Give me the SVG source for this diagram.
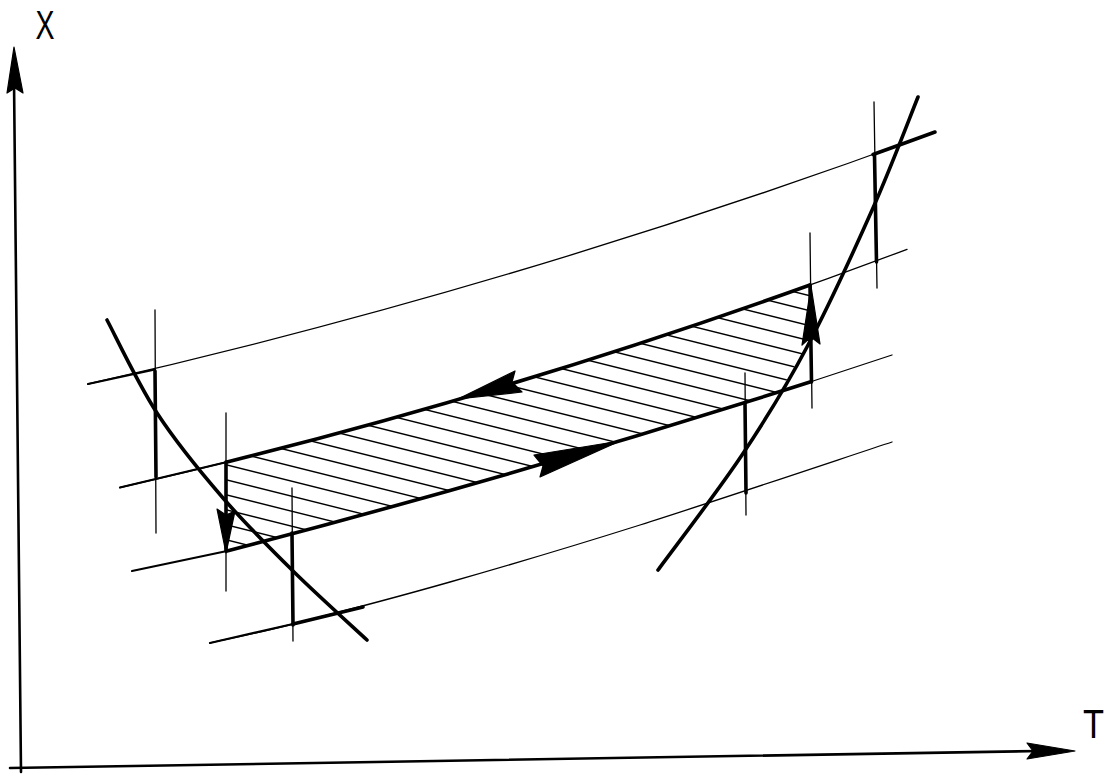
<svg xmlns="http://www.w3.org/2000/svg" width="1107" height="776" viewBox="0 0 1107 776">
  <style>
    .thin{fill:none;stroke:#000;stroke-width:1.3;stroke-linecap:round}
    .med{fill:none;stroke:#000;stroke-width:2.2;stroke-linecap:round}
    .thick{fill:none;stroke:#000;stroke-width:3.6;stroke-linecap:round;stroke-linejoin:round}
    .axis{fill:none;stroke:#000;stroke-width:2.6;stroke-linecap:round}
    .head{fill:#000;stroke:#000;stroke-width:1.2;stroke-linejoin:round}
    .hatch{fill:none;stroke:#000;stroke-width:1.4}
    .lbl{font-family:"Liberation Sans",Arial,sans-serif;font-weight:normal;font-size:40px;fill:#000}
  </style>
  <defs>
    <clipPath id="hatchClip">
      <path d="M227,462 Q518.5,389.65 810,285 L811,338 L780,391.6 Q503.5,479 227,551 Z"/>
    </clipPath>
  </defs>
  <rect width="1107" height="776" fill="#fff"/>

  <g id="axes">
    <path class="axis" d="M14,80 L21,772"/>
    <path class="axis" d="M10,768 L1040,751"/>
    <polygon class="head" points="14,47 23,93 15,88 7,93"/>
    <polygon class="head" points="1075,751 1027,759 1033,751 1027,743"/>
  </g>

  <g id="labels">
    <text class="lbl" x="45" y="39" text-anchor="middle" textLength="19" lengthAdjust="spacingAndGlyphs">X</text>
    <text class="lbl" x="1093.5" y="738" text-anchor="middle" textLength="21" lengthAdjust="spacingAndGlyphs">T</text>
  </g>

  <g id="hatch" clip-path="url(#hatchClip)">
    <path class="hatch" d="M200,143.3 L830,300.8 M200,158.3 L830,315.8 M200,173.3 L830,330.8 M200,188.3 L830,345.8 M200,203.3 L830,360.8 M200,218.3 L830,375.8 M200,233.3 L830,390.8 M200,248.3 L830,405.8 M200,263.3 L830,420.8 M200,278.3 L830,435.8 M200,293.3 L830,450.8 M200,308.3 L830,465.8 M200,323.3 L830,480.8 M200,338.3 L830,495.8 M200,353.3 L830,510.8 M200,368.3 L830,525.8 M200,383.3 L830,540.8 M200,398.3 L830,555.8 M200,413.3 L830,570.8 M200,428.3 L830,585.8 M200,443.3 L830,600.8 M200,458.3 L830,615.8 M200,473.3 L830,630.8 M200,488.3 L830,645.8 M200,503.3 L830,660.8 M200,518.3 L830,675.8 M200,533.3 L830,690.8"/>
  </g>

  <g id="isolines">
    <path class="thin" d="M88,384 Q511.5,288 935,132"/>
    <path class="med" d="M88,384 L155,369.5"/>
    <path class="thick" d="M873,154.5 Q904,143.4 935,132"/>
    <path class="thin" d="M120,487.5 Q513.5,397.8 907,249.3"/>
    <path class="med" d="M120,487.5 L227,462"/>
    <path class="thick" d="M227,462 Q518.5,389.65 810,285"/>
    <path class="med" d="M132,571 L227,551"/>
    <path class="thick" d="M227,551 Q518.5,475.1 810,382"/>
    <path class="thin" d="M810,382 L892,355"/>
    <path class="thin" d="M210,643 C223.8,639.8 253,634.2 293,624 C333,613.8 392.2,598.5 450,582 C507.8,565.5 566.3,548.3 640,525 C713.7,501.7 850,455.8 892,442"/>
    <path class="med" d="M210,643 L293,624"/>
    <path class="thick" d="M293,624 L363,607"/>
  </g>

  <g id="equilibrium-curves">
    <path class="thick" d="M107,320 C115.3,335.5 137.7,383.3 157,413 C176.3,442.7 200.3,471.7 223,498 C245.7,524.3 269,547.3 293,571 C317,594.7 354.7,628.5 367,640"/>
    <path class="thick" d="M658,570 C672,550.8 717.2,492.2 742,455 C766.8,417.8 785.2,388.2 807,347 C828.8,305.8 854.5,249.7 873,208 C891.5,166.3 910.5,115.5 918,97"/>
  </g>

  <g id="verticals">
    <path class="thin" d="M155,310 L156,533"/>
    <path class="thick" d="M155,371 L156,477"/>
    <path class="thin" d="M226,413 L226,591"/>
    <path class="thick" d="M226,462 L226,551"/>
    <path class="thin" d="M292,488 L293,641"/>
    <path class="thick" d="M292,533 L293,625"/>
    <path class="thin" d="M745,373 L746,515"/>
    <path class="thick" d="M745,403 L746,493"/>
    <path class="thin" d="M810,233 L812,408"/>
    <path class="thick" d="M810,285 L811.5,382"/>
    <path class="thin" d="M874,102 L877,288"/>
    <path class="thick" d="M874.5,155 L876.5,262"/>
  </g>

  <g id="cycle-arrows">
    <polygon class="head" points="226,553 217,509 226,515 235,511"/>
    <polygon class="head" points="811,286 820,344 811,337 802,345"/>
    <polygon class="head" points="458,399 515,371 512,382 522,392"/>
    <polygon class="head" points="620,441 534,455 543,466 540,477"/>
  </g>
</svg>
